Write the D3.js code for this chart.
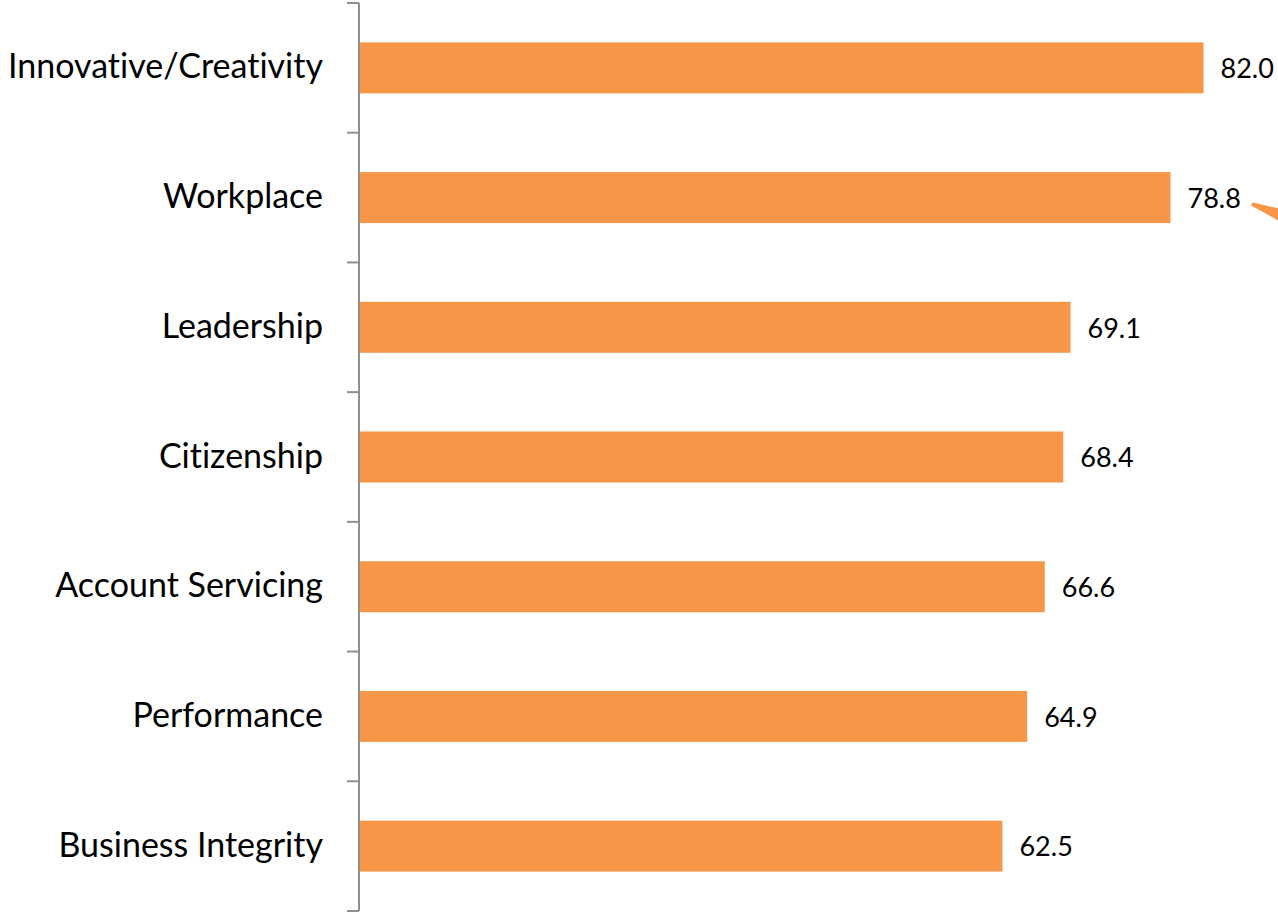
<!DOCTYPE html>
<html>
<head>
<meta charset="utf-8">
<script src="https://cdn.jsdelivr.net/npm/d3@7"></script>
<style>
  html, body { margin: 0; padding: 0; background: #fff; }
  svg { display: block; }
  text { font-family: Lato, "Open Sans", sans-serif; fill: #000; font-variant-ligatures: none; }
</style>
</head>
<body>
<svg id="chart" width="1278" height="914"></svg>
<script>
// Scores by dimension
const categories = [
  "Innovative/Creativity",
  "Workplace",
  "Leadership",
  "Citizenship",
  "Account Servicing",
  "Performance",
  "Business Integrity"
];
const scores = [82.0, 78.8, 69.1, 68.4, 66.6, 64.9, 62.5];

const svg = d3.select("#chart");
const axisX = 359;
const plotTop = 3, plotBottom = 911;

const data = categories.map((c, i) => ({ name: c, value: scores[i] }));

const y = d3.scaleBand()
  .domain(categories)
  .range([plotTop, plotBottom])
  .paddingInner(0.607)
  .paddingOuter(0.3035);

const x = d3.scaleLinear()
  .domain([0, 90])
  .range([358, 1286]);

// Bars
svg.append("g")
  .selectAll("rect")
  .data(data)
  .join("rect")
  .attr("x", x(0) + 2)
  .attr("y", d => y(d.name))
  .attr("width", d => x(d.value) - x(0) - 2)
  .attr("height", y.bandwidth())
  .attr("fill", "#F79646");

// Category axis: vertical line with ticks at band boundaries
const step = (plotBottom - plotTop) / categories.length;
const boundaries = d3.range(categories.length + 1).map(i => plotTop + i * step);
const axisG = svg.append("g").attr("stroke", "#8f8f8f").attr("stroke-width", 2);
axisG.append("line")
  .attr("x1", axisX).attr("x2", axisX)
  .attr("y1", plotTop).attr("y2", plotBottom);
axisG.selectAll("line.tick")
  .data(boundaries)
  .join("line")
  .attr("class", "tick")
  .attr("x1", axisX - 12).attr("x2", axisX)
  .attr("y1", d => d).attr("y2", d => d);

// Category labels
svg.append("g")
  .selectAll("text")
  .data(data)
  .join("text")
  .attr("x", 323)
  .attr("y", d => y(d.name) + y.bandwidth() / 2)
  .attr("dy", "0.31em")
  .attr("text-anchor", "end")
  .attr("font-size", 34)
  .text(d => d.name);

// Value labels
svg.append("g")
  .selectAll("text")
  .data(data)
  .join("text")
  .attr("x", d => x(d.value) + 17)
  .attr("y", d => y(d.name) + y.bandwidth() / 2)
  .attr("dy", "0.38em")
  .attr("font-size", 27)
  .text(d => d.value.toFixed(1));

// Callout pointer leaving the plot at right
svg.append("path")
  .attr("d", "M1253,202.5 L1279,208.5 L1279,221 L1252,206 Q1250,204 1253,202.5 Z")
  .attr("fill", "#F79646");
</script>
</body>
</html>
